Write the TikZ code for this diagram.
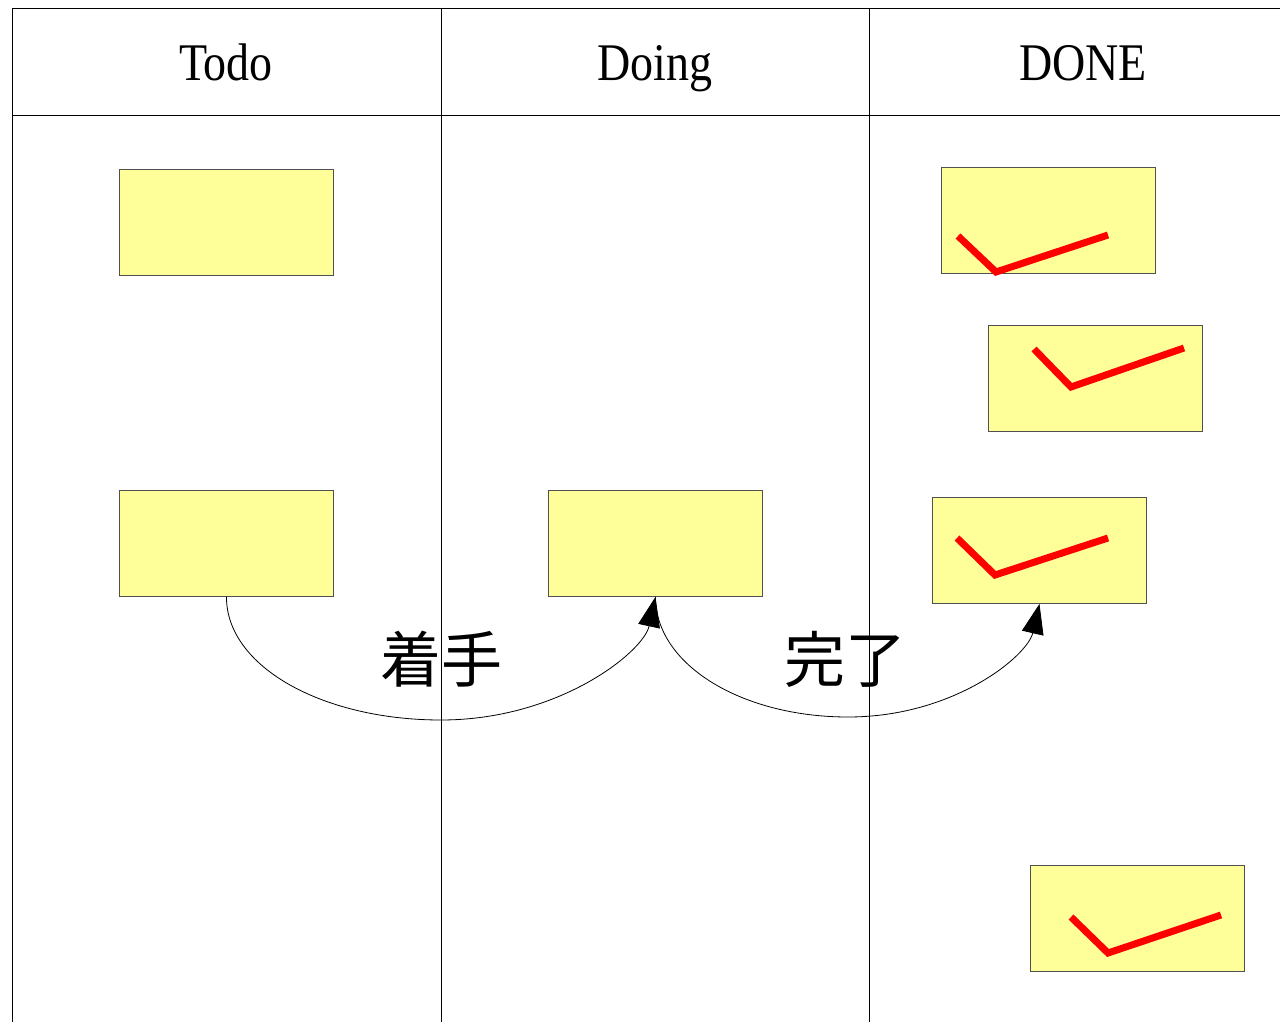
\documentclass[tikz,border=0pt]{standalone}
\usepackage{fontspec}
\setmainfont{Liberation Serif}
\newfontfamily\cjk{Noto Sans CJK JP}
\usetikzlibrary{arrows.meta,calc}
\definecolor{cardfill}{HTML}{FFFF99}
\definecolor{cardline}{HTML}{505050}
\tikzset{
  card/.style={draw=cardline,fill=cardfill,line width=0.9pt,minimum width=214pt,minimum height=106pt,inner sep=0pt,anchor=north west},
  check/.style={draw=red,line width=7pt,line join=miter},
  frame/.style={draw=black,line width=0.9pt},
  flow/.style={draw=black,line width=0.8pt,-{Triangle[length=30pt,width=22pt]}},
  head/.style={font=\fontsize{46}{46}\selectfont,inner sep=0pt,anchor=base},
  verb/.style={font=\cjk\fontsize{61}{61}\selectfont,inner sep=0pt}
}
\begin{document}
\begin{tikzpicture}[x=1pt,y=-1pt]
\useasboundingbox (0,0) rectangle (1280,1022);
% frame
\draw[frame] (1280,8) -- (12,8) -- (12,1022);
\draw[frame] (12,115) -- (1280,115);
\draw[frame] (441,8) -- (441,1022);
\draw[frame] (869,8) -- (869,1022);
% headers
\node[head] (h1) at (226,81) {\scalebox{1}[1.15]{Todo}};
\node[head] (h2) at (655,81) {\scalebox{1}[1.15]{Doing}};
\node[head] (h3) at (1083,81) {\scalebox{1}[1.15]{DONE}};
% cards
\node[card] (t1) at (119,169) {};
\node[card] (t2) at (119,490) {};
\node[card] (g1) at (548,490) {};
\node[card] (d1) at (941,167) {};
\node[card] (d2) at (988,325) {};
\node[card] (d3) at (932,497) {};
\node[card] (d4) at (1030,865) {};
% checks
\draw[check] ($(d1.north west)+(17,69)$) -- ($(d1.north west)+(55,105)$) -- ($(d1.north west)+(167,68)$);
\draw[check] ($(d2.north west)+(46,24)$) -- ($(d2.north west)+(83,62)$) -- ($(d2.north west)+(196,23)$);
\draw[check] ($(d3.north west)+(25,41)$) -- ($(d3.north west)+(63,78)$) -- ($(d3.north west)+(176,41)$);
\draw[check] ($(d4.north west)+(41,52)$) -- ($(d4.north west)+(78,88)$) -- ($(d4.north west)+(191,50)$);
% flows
\coordinate (m1) at (441,720);
\coordinate (m2) at (848,717);
\draw[flow] (t2.south) .. controls +(0,70) and +(-118,0) .. (m1) .. controls +(118,0) and +(-12,55) .. (g1.south);
\draw[flow] (g1.south) .. controls +(0,68) and +(-106,0) .. (m2) .. controls +(106,0) and +(-12,52) .. (d3.south);
\node[verb] (v1) at (441,659) {着手};
\node[verb] (v2) at (845,659) {完了};
\end{tikzpicture}
\end{document}
